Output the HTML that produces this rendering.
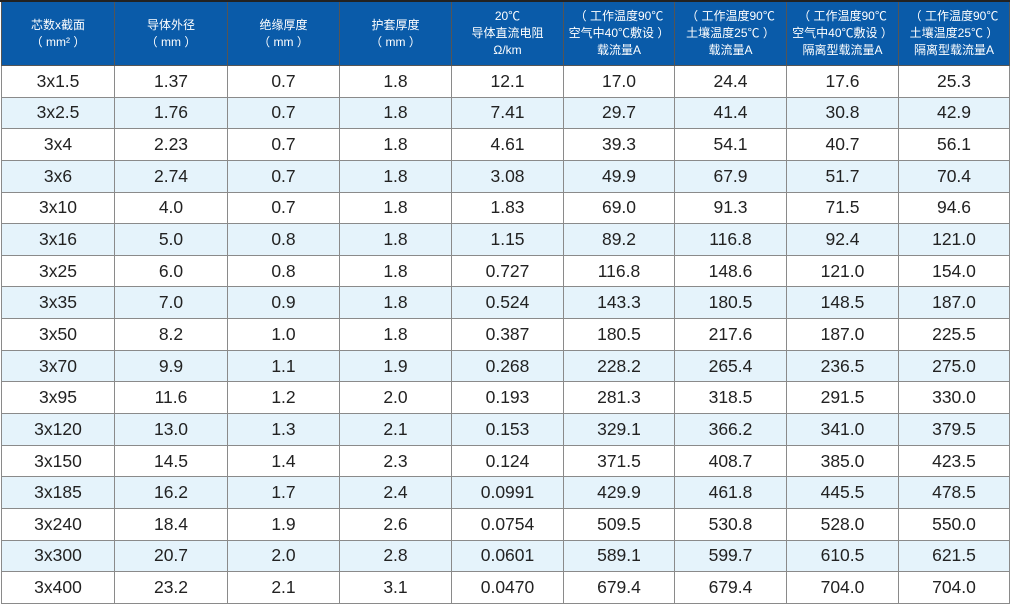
<!DOCTYPE html>
<html><head><meta charset="utf-8"><style>
body{margin:0;width:1010px;height:605px;background:#fff;overflow:hidden;position:relative;font-family:"Liberation Sans","Noto Sans CJK SC",sans-serif}
.top{position:absolute;left:0;top:0;width:1010px;height:2px;background:#222}
table{position:absolute;left:1px;top:2px;border-collapse:collapse;table-layout:fixed}
td,th{border:1px solid #777;text-align:center;padding:0}
th{background:#0a5ba9;color:#fff;font-weight:normal;font-size:12px;line-height:17px;height:63px;border-color:#555;border-top:none}
td{font-size:17.5px;color:#222;height:30.65px;border-color:#8a8a8a}
tr:nth-child(odd) td{background:#e5f3fb}
</style></head><body><div class="top"></div>
<table>
<colgroup><col style="width:113px"><col style="width:113px"><col style="width:112px"><col style="width:112px"><col style="width:112px"><col style="width:111px"><col style="width:112px"><col style="width:112px"><col style="width:111px"></colgroup>
<tr><th>芯数x截面<br>（ mm² ）</th><th>导体外径<br>（ mm ）</th><th>绝缘厚度<br>（ mm ）</th><th>护套厚度<br>（ mm ）</th><th>20℃<br>导体直流电阻<br>Ω/km</th><th>（ 工作温度90℃<br>空气中40℃敷设 ）<br>载流量A</th><th>（ 工作温度90℃<br>土壤温度25℃ ）<br>载流量A</th><th>（ 工作温度90℃<br>空气中40℃敷设 ）<br>隔离型载流量A</th><th>（ 工作温度90℃<br>土壤温度25℃ ）<br>隔离型载流量A</th></tr>
<tr><td>3x1.5</td><td>1.37</td><td>0.7</td><td>1.8</td><td>12.1</td><td>17.0</td><td>24.4</td><td>17.6</td><td>25.3</td></tr>
<tr><td>3x2.5</td><td>1.76</td><td>0.7</td><td>1.8</td><td>7.41</td><td>29.7</td><td>41.4</td><td>30.8</td><td>42.9</td></tr>
<tr><td>3x4</td><td>2.23</td><td>0.7</td><td>1.8</td><td>4.61</td><td>39.3</td><td>54.1</td><td>40.7</td><td>56.1</td></tr>
<tr><td>3x6</td><td>2.74</td><td>0.7</td><td>1.8</td><td>3.08</td><td>49.9</td><td>67.9</td><td>51.7</td><td>70.4</td></tr>
<tr><td>3x10</td><td>4.0</td><td>0.7</td><td>1.8</td><td>1.83</td><td>69.0</td><td>91.3</td><td>71.5</td><td>94.6</td></tr>
<tr><td>3x16</td><td>5.0</td><td>0.8</td><td>1.8</td><td>1.15</td><td>89.2</td><td>116.8</td><td>92.4</td><td>121.0</td></tr>
<tr><td>3x25</td><td>6.0</td><td>0.8</td><td>1.8</td><td>0.727</td><td>116.8</td><td>148.6</td><td>121.0</td><td>154.0</td></tr>
<tr><td>3x35</td><td>7.0</td><td>0.9</td><td>1.8</td><td>0.524</td><td>143.3</td><td>180.5</td><td>148.5</td><td>187.0</td></tr>
<tr><td>3x50</td><td>8.2</td><td>1.0</td><td>1.8</td><td>0.387</td><td>180.5</td><td>217.6</td><td>187.0</td><td>225.5</td></tr>
<tr><td>3x70</td><td>9.9</td><td>1.1</td><td>1.9</td><td>0.268</td><td>228.2</td><td>265.4</td><td>236.5</td><td>275.0</td></tr>
<tr><td>3x95</td><td>11.6</td><td>1.2</td><td>2.0</td><td>0.193</td><td>281.3</td><td>318.5</td><td>291.5</td><td>330.0</td></tr>
<tr><td>3x120</td><td>13.0</td><td>1.3</td><td>2.1</td><td>0.153</td><td>329.1</td><td>366.2</td><td>341.0</td><td>379.5</td></tr>
<tr><td>3x150</td><td>14.5</td><td>1.4</td><td>2.3</td><td>0.124</td><td>371.5</td><td>408.7</td><td>385.0</td><td>423.5</td></tr>
<tr><td>3x185</td><td>16.2</td><td>1.7</td><td>2.4</td><td>0.0991</td><td>429.9</td><td>461.8</td><td>445.5</td><td>478.5</td></tr>
<tr><td>3x240</td><td>18.4</td><td>1.9</td><td>2.6</td><td>0.0754</td><td>509.5</td><td>530.8</td><td>528.0</td><td>550.0</td></tr>
<tr><td>3x300</td><td>20.7</td><td>2.0</td><td>2.8</td><td>0.0601</td><td>589.1</td><td>599.7</td><td>610.5</td><td>621.5</td></tr>
<tr><td>3x400</td><td>23.2</td><td>2.1</td><td>3.1</td><td>0.0470</td><td>679.4</td><td>679.4</td><td>704.0</td><td>704.0</td></tr>
</table></body></html>
